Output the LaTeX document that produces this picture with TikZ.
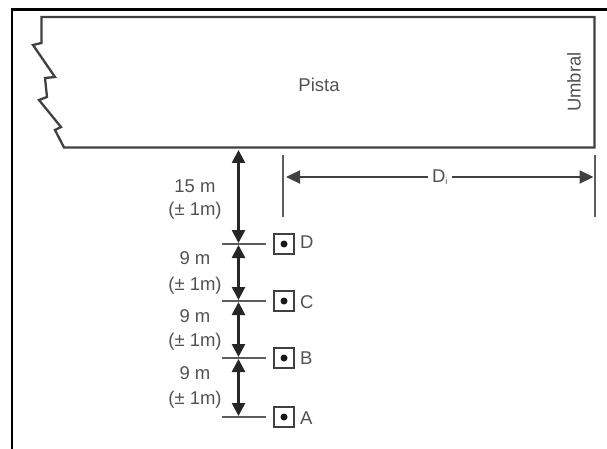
\documentclass[tikz,border=0pt]{standalone}
\usepackage{fontspec}
\setmainfont{Liberation Sans}
\usetikzlibrary{arrows.meta}
\definecolor{ink}{gray}{0.25}
\definecolor{txt}{gray}{0.32}
\tikzset{
  line/.style={draw=ink,line width=2.3pt},
  thin line/.style={draw=ink!85,line width=2pt},
  dim/.style={draw=black!85,line width=2.6pt,{Triangle[length=13pt,width=13pt]}-{Triangle[length=13pt,width=13pt]},shorten <=1pt,shorten >=1pt},
  lbl/.style={text=txt,font=\fontsize{18.5}{20}\selectfont,inner sep=0pt},
  lab/.style={text=txt,font=\fontsize{18.5}{20}\selectfont,inner sep=0pt,anchor=west},
  station/.style={draw=ink,line width=2.2pt,minimum size=20.5pt,inner sep=0pt,fill=white},
  dot/.style={circle,fill=black!90,minimum size=7pt,inner sep=0pt},
}
\begin{document}
\begin{tikzpicture}[x=1pt,y=-1pt]
\useasboundingbox (0,0) rectangle (607,449);
\draw[black,line width=2.6pt] (12,449) -- (12,9.5) -- (607,9.5);
% runway outline
\draw[line,line join=miter] (41.5,17) -- (594.5,17) -- (594.5,147.5) -- (64,147.5)
  -- (55,130) -- (61,127) -- (39,100) -- (47,97) -- (45,78) -- (55,77) -- (33,45) -- (41.5,43) -- cycle;
\node[lbl] (pista) at (319,85) {Pista};
\node[lbl,rotate=90] (umbral) at (574,82) {Umbral};
% named references
\coordinate (edge) at (238.5,149);
\coordinate (tA1) at (222,417); \coordinate (tA2) at (266,417); \coordinate (pA) at (238.5,417);
\coordinate (tB1) at (222,358); \coordinate (tB2) at (266,358); \coordinate (pB) at (238.5,358);
\coordinate (tC1) at (222,301); \coordinate (tC2) at (266,301); \coordinate (pC) at (238.5,301);
\coordinate (tD1) at (222,244); \coordinate (tD2) at (266,244); \coordinate (pD) at (238.5,244);
\draw[thin line] (tA1) -- (tA2);
\draw[thin line] (tB1) -- (tB2);
\draw[thin line] (tC1) -- (tC2);
\draw[thin line] (tD1) -- (tD2);
\draw[dim] (edge) -- (pD);
\draw[dim] (pD) -- (pC);
\draw[dim] (pC) -- (pB);
\draw[dim] (pB) -- (pA);
% stations
\foreach \n/\y/\t in {A/417/418,B/358/358,C/301/302,D/244/242}{
  \node[station] (s\n) at (284,\y) {};
  \node[dot] at (s\n.center) {};
  \node[lab] (l\n) at (300,\t) {\n};
}
% distance labels
\node[lbl] (d15a) at (195,186) {15 m};
\node[lbl] (d15b) at (195,211) {(± 1m)};
\node[lbl] (d9a) at (195,258) {9 m};
\node[lbl] (d9b) at (195,286) {(± 1m)};
\node[lbl] (d9c) at (195,316) {9 m};
\node[lbl] (d9d) at (195,342) {(± 1m)};
\node[lbl] (d9e) at (195,373) {9 m};
\node[lbl] (d9f) at (195,400) {(± 1m)};
% Di dimension
\coordinate (e1t) at (283,155); \coordinate (e1b) at (283,217);
\coordinate (e2t) at (594.5,155); \coordinate (e2b) at (594.5,217);
\draw[thin line] (e1t) -- (e1b);
\draw[thin line] (e2t) -- (e2b);
\coordinate (h1) at (286,177); \coordinate (h2) at (593.5,177);
\node[lbl,anchor=center,inner xsep=4pt] (di) at (440,177) {D\textsubscript{\fontsize{9}{9}\selectfont i}};
\draw[line,{Triangle[length=14pt,width=13pt]}-] (h1) -- (di.west|-h1);
\draw[line,-{Triangle[length=14pt,width=13pt]}] (di.east|-h2) -- (h2);
\end{tikzpicture}
\end{document}
